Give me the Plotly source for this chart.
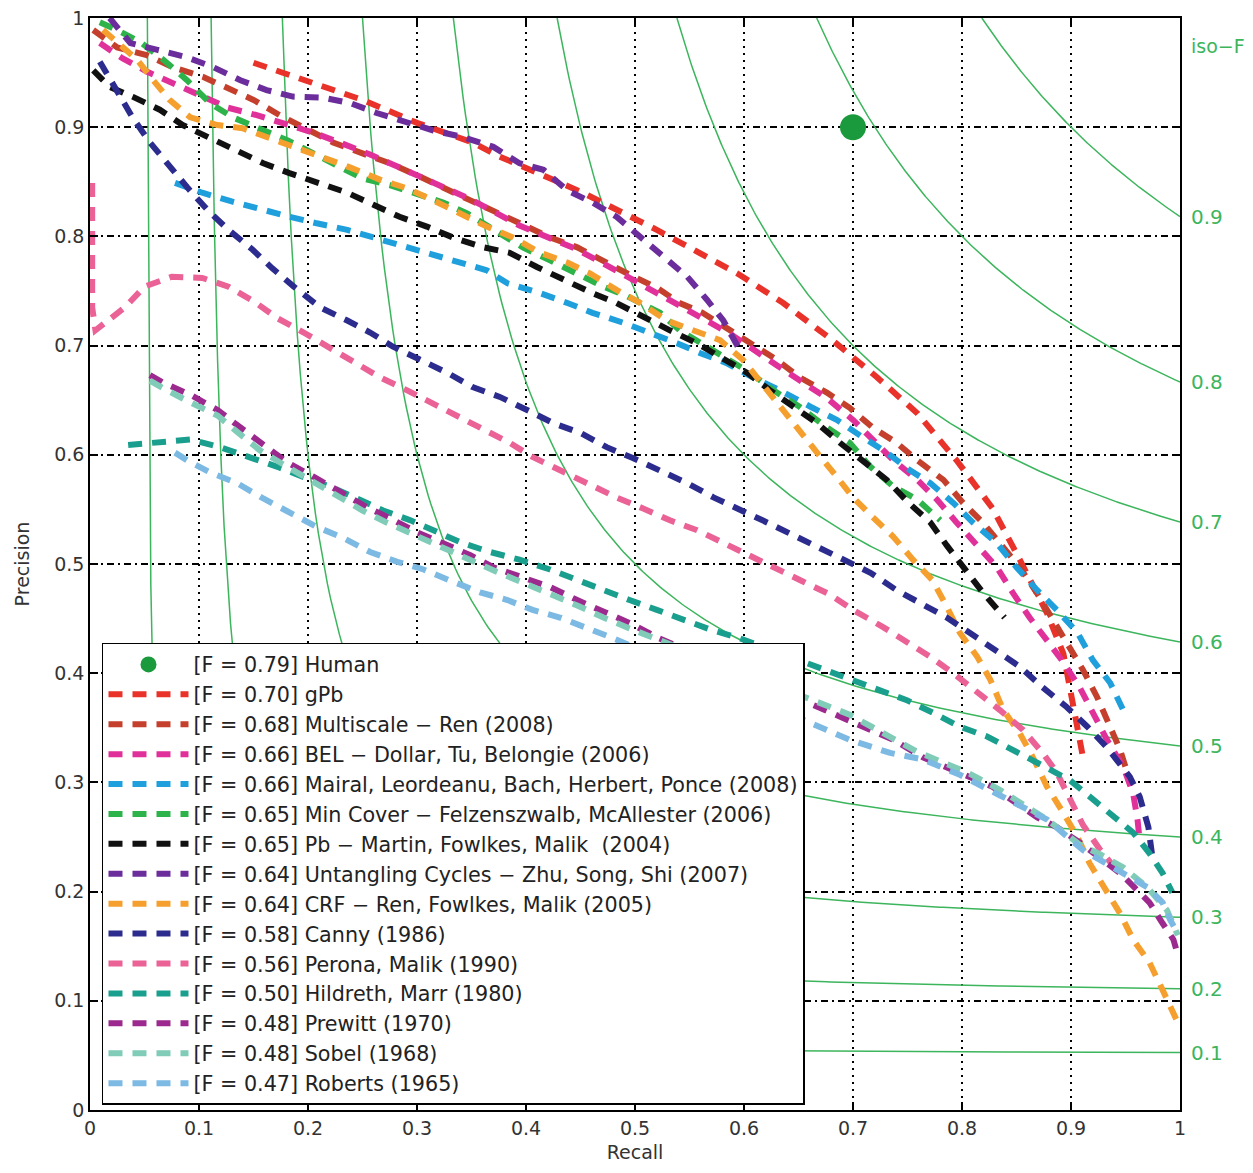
import numpy as np
import plotly.graph_objects as go

# ---------------- data (recall, precision) ----------------
human_r = [0.70]
human_p = [0.90]

gpb_r = [0.150, 0.199, 0.250, 0.300, 0.351, 0.376, 0.450, 0.520, 0.594, 0.636, 0.681, 0.722, 0.759, 0.795, 0.828, 0.853, 0.878, 0.893, 0.899, 0.906, 0.911]
gpb_p = [0.959, 0.943, 0.925, 0.904, 0.886, 0.873, 0.841, 0.806, 0.766, 0.739, 0.705, 0.671, 0.638, 0.595, 0.551, 0.504, 0.455, 0.418, 0.385, 0.351, 0.323]

multi_r = [0.003, 0.025, 0.052, 0.076, 0.104, 0.126, 0.150, 0.174, 0.199, 0.223, 0.250, 0.275, 0.300, 0.324, 0.349, 0.373, 0.394, 0.422, 0.447, 0.471, 0.495, 0.520, 0.541, 0.562, 0.587, 0.608, 0.630, 0.651, 0.676, 0.697, 0.718, 0.740, 0.759, 0.783, 0.801, 0.819, 0.838, 0.853, 0.869, 0.883, 0.899, 0.911, 0.924, 0.936, 0.945, 0.951]
multi_p = [0.989, 0.973, 0.966, 0.955, 0.946, 0.936, 0.925, 0.911, 0.899, 0.886, 0.876, 0.867, 0.856, 0.844, 0.833, 0.822, 0.812, 0.799, 0.790, 0.777, 0.765, 0.753, 0.739, 0.730, 0.714, 0.702, 0.687, 0.671, 0.657, 0.643, 0.625, 0.611, 0.595, 0.577, 0.556, 0.538, 0.516, 0.497, 0.473, 0.449, 0.424, 0.403, 0.378, 0.351, 0.330, 0.311]

bel_r = [0.009, 0.030, 0.052, 0.076, 0.101, 0.126, 0.153, 0.177, 0.205, 0.229, 0.257, 0.300, 0.328, 0.351, 0.394, 0.447, 0.495, 0.541, 0.587, 0.630, 0.676, 0.700, 0.718, 0.737, 0.759, 0.777, 0.795, 0.814, 0.832, 0.847, 0.862, 0.878, 0.893, 0.908, 0.920, 0.933, 0.948, 0.957, 0.961, 0.963]
bel_p = [0.977, 0.963, 0.951, 0.940, 0.929, 0.918, 0.911, 0.904, 0.895, 0.886, 0.875, 0.856, 0.844, 0.833, 0.810, 0.788, 0.762, 0.736, 0.711, 0.682, 0.652, 0.632, 0.614, 0.595, 0.577, 0.559, 0.538, 0.516, 0.497, 0.473, 0.451, 0.430, 0.410, 0.387, 0.364, 0.339, 0.314, 0.290, 0.266, 0.247]

mairal_r = [0.078, 0.103, 0.130, 0.158, 0.183, 0.208, 0.236, 0.260, 0.284, 0.312, 0.337, 0.364, 0.383, 0.413, 0.438, 0.461, 0.489, 0.514, 0.539, 0.560, 0.584, 0.608, 0.633, 0.661, 0.685, 0.709, 0.731, 0.752, 0.771, 0.792, 0.810, 0.832, 0.850, 0.869, 0.887, 0.906, 0.920, 0.936, 0.948]
mairal_p = [0.849, 0.840, 0.832, 0.824, 0.818, 0.812, 0.806, 0.799, 0.792, 0.785, 0.777, 0.769, 0.757, 0.748, 0.739, 0.730, 0.721, 0.712, 0.702, 0.693, 0.684, 0.671, 0.659, 0.644, 0.632, 0.616, 0.602, 0.586, 0.574, 0.556, 0.538, 0.519, 0.497, 0.476, 0.458, 0.437, 0.412, 0.391, 0.366]

mincover_r = [0.009, 0.025, 0.046, 0.067, 0.089, 0.110, 0.131, 0.156, 0.181, 0.205, 0.227, 0.250, 0.275, 0.296, 0.324, 0.346, 0.370, 0.397, 0.422, 0.447, 0.471, 0.493, 0.523, 0.541, 0.566, 0.584, 0.606, 0.627, 0.651, 0.676, 0.697, 0.716, 0.737, 0.759, 0.780]
mincover_p = [0.996, 0.989, 0.978, 0.962, 0.943, 0.922, 0.909, 0.899, 0.888, 0.876, 0.864, 0.853, 0.847, 0.840, 0.831, 0.821, 0.806, 0.790, 0.778, 0.766, 0.754, 0.745, 0.730, 0.714, 0.699, 0.687, 0.675, 0.659, 0.644, 0.625, 0.611, 0.589, 0.571, 0.559, 0.540]

pb_r = [0.003, 0.018, 0.039, 0.064, 0.085, 0.110, 0.135, 0.159, 0.183, 0.208, 0.236, 0.260, 0.284, 0.309, 0.333, 0.361, 0.385, 0.410, 0.434, 0.461, 0.483, 0.507, 0.532, 0.557, 0.578, 0.603, 0.624, 0.645, 0.667, 0.688, 0.709, 0.731, 0.750, 0.771, 0.786, 0.801, 0.819, 0.839]
pb_p = [0.952, 0.937, 0.928, 0.916, 0.902, 0.890, 0.877, 0.867, 0.858, 0.849, 0.840, 0.829, 0.818, 0.809, 0.799, 0.790, 0.785, 0.772, 0.760, 0.748, 0.739, 0.726, 0.714, 0.702, 0.690, 0.675, 0.659, 0.644, 0.629, 0.611, 0.595, 0.577, 0.557, 0.538, 0.517, 0.497, 0.474, 0.451]

untangle_r = [0.018, 0.037, 0.061, 0.089, 0.113, 0.138, 0.162, 0.186, 0.214, 0.239, 0.263, 0.287, 0.315, 0.342, 0.370, 0.394, 0.416, 0.438, 0.461, 0.483, 0.505, 0.526, 0.548, 0.566, 0.581, 0.596]
untangle_p = [1.000, 0.977, 0.971, 0.964, 0.955, 0.943, 0.934, 0.928, 0.927, 0.922, 0.913, 0.905, 0.897, 0.891, 0.882, 0.867, 0.861, 0.842, 0.831, 0.818, 0.799, 0.781, 0.763, 0.742, 0.723, 0.696]

crf_r = [0.012, 0.043, 0.058, 0.073, 0.092, 0.117, 0.140, 0.165, 0.190, 0.214, 0.239, 0.266, 0.291, 0.315, 0.339, 0.364, 0.388, 0.413, 0.438, 0.459, 0.483, 0.505, 0.529, 0.553, 0.578, 0.599, 0.633, 0.649, 0.667, 0.685, 0.700, 0.718, 0.737, 0.755, 0.773, 0.786, 0.798, 0.814, 0.826, 0.838, 0.853, 0.865, 0.878, 0.893, 0.906, 0.917, 0.933, 0.945, 0.957, 0.972, 0.984, 0.998]
crf_p = [0.989, 0.962, 0.943, 0.925, 0.909, 0.902, 0.899, 0.890, 0.882, 0.873, 0.863, 0.852, 0.844, 0.833, 0.821, 0.809, 0.799, 0.785, 0.776, 0.766, 0.751, 0.739, 0.723, 0.714, 0.705, 0.687, 0.644, 0.623, 0.602, 0.580, 0.561, 0.543, 0.525, 0.504, 0.485, 0.461, 0.437, 0.415, 0.394, 0.366, 0.345, 0.323, 0.296, 0.272, 0.250, 0.226, 0.201, 0.180, 0.156, 0.135, 0.110, 0.080]

canny_r = [0.009, 0.025, 0.039, 0.055, 0.073, 0.090, 0.108, 0.127, 0.149, 0.167, 0.187, 0.211, 0.236, 0.257, 0.278, 0.303, 0.328, 0.351, 0.376, 0.401, 0.425, 0.450, 0.474, 0.498, 0.523, 0.548, 0.572, 0.596, 0.617, 0.642, 0.667, 0.691, 0.716, 0.740, 0.761, 0.786, 0.807, 0.832, 0.853, 0.874, 0.896, 0.915, 0.933, 0.954, 0.963, 0.971, 0.975]
canny_p = [0.960, 0.934, 0.909, 0.886, 0.864, 0.844, 0.824, 0.806, 0.788, 0.771, 0.754, 0.735, 0.723, 0.712, 0.699, 0.687, 0.675, 0.662, 0.653, 0.641, 0.629, 0.620, 0.607, 0.597, 0.586, 0.574, 0.561, 0.549, 0.540, 0.528, 0.516, 0.504, 0.492, 0.476, 0.464, 0.451, 0.437, 0.421, 0.406, 0.387, 0.369, 0.351, 0.332, 0.305, 0.287, 0.259, 0.229]

perona_r = [0.002, 0.002, 0.005, 0.014, 0.032, 0.050, 0.075, 0.103, 0.127, 0.151, 0.172, 0.196, 0.220, 0.241, 0.266, 0.291, 0.315, 0.337, 0.361, 0.385, 0.406, 0.431, 0.459, 0.483, 0.507, 0.532, 0.557, 0.581, 0.606, 0.630, 0.654, 0.679, 0.700, 0.728, 0.750, 0.771, 0.792, 0.814, 0.835, 0.856, 0.874, 0.887, 0.899, 0.911, 0.927, 0.940]
perona_p = [0.849, 0.735, 0.714, 0.721, 0.735, 0.754, 0.763, 0.762, 0.754, 0.740, 0.725, 0.712, 0.698, 0.685, 0.671, 0.659, 0.647, 0.635, 0.623, 0.611, 0.598, 0.586, 0.574, 0.561, 0.551, 0.540, 0.531, 0.519, 0.508, 0.496, 0.484, 0.472, 0.458, 0.442, 0.428, 0.415, 0.400, 0.383, 0.366, 0.348, 0.327, 0.309, 0.284, 0.261, 0.238, 0.222]

hildreth_r = [0.035, 0.064, 0.092, 0.119, 0.147, 0.172, 0.195, 0.220, 0.245, 0.269, 0.294, 0.318, 0.342, 0.367, 0.394, 0.422, 0.447, 0.471, 0.495, 0.520, 0.544, 0.569, 0.596, 0.700, 0.725, 0.750, 0.773, 0.798, 0.823, 0.847, 0.869, 0.899, 0.920, 0.939, 0.957, 0.972, 0.984, 0.993]
hildreth_p = [0.609, 0.612, 0.614, 0.607, 0.598, 0.589, 0.580, 0.571, 0.560, 0.549, 0.540, 0.529, 0.519, 0.511, 0.504, 0.495, 0.485, 0.476, 0.467, 0.458, 0.449, 0.440, 0.432, 0.394, 0.385, 0.375, 0.364, 0.351, 0.342, 0.330, 0.318, 0.302, 0.284, 0.268, 0.254, 0.235, 0.217, 0.199]

prewitt_r = [0.055, 0.067, 0.092, 0.117, 0.138, 0.159, 0.181, 0.205, 0.229, 0.254, 0.275, 0.300, 0.324, 0.349, 0.370, 0.397, 0.422, 0.447, 0.471, 0.495, 0.520, 0.697, 0.716, 0.737, 0.764, 0.786, 0.807, 0.828, 0.850, 0.869, 0.887, 0.908, 0.929, 0.945, 0.961, 0.972, 0.984, 0.994, 0.998]
prewitt_p = [0.673, 0.666, 0.655, 0.641, 0.625, 0.609, 0.593, 0.580, 0.566, 0.552, 0.542, 0.529, 0.519, 0.508, 0.497, 0.488, 0.479, 0.467, 0.456, 0.446, 0.433, 0.357, 0.348, 0.339, 0.323, 0.314, 0.305, 0.296, 0.281, 0.268, 0.259, 0.245, 0.229, 0.217, 0.201, 0.190, 0.171, 0.156, 0.142]

sobel_r = [0.055, 0.067, 0.092, 0.117, 0.135, 0.156, 0.181, 0.205, 0.227, 0.250, 0.272, 0.296, 0.321, 0.346, 0.373, 0.397, 0.422, 0.447, 0.471, 0.495, 0.697, 0.759, 0.783, 0.805, 0.835, 0.878, 0.908, 0.927, 0.948, 0.970, 0.988, 0.998]
sobel_p = [0.668, 0.661, 0.648, 0.636, 0.621, 0.604, 0.589, 0.575, 0.561, 0.549, 0.538, 0.527, 0.516, 0.505, 0.493, 0.483, 0.473, 0.462, 0.451, 0.441, 0.362, 0.328, 0.318, 0.309, 0.293, 0.266, 0.243, 0.234, 0.222, 0.204, 0.183, 0.160]

roberts_r = [0.078, 0.089, 0.110, 0.135, 0.159, 0.183, 0.208, 0.232, 0.257, 0.282, 0.306, 0.330, 0.358, 0.383, 0.406, 0.431, 0.456, 0.480, 0.697, 0.734, 0.764, 0.798, 0.835, 0.878, 0.911, 0.936, 0.970, 0.984, 0.991, 0.998]
roberts_p = [0.602, 0.595, 0.584, 0.574, 0.560, 0.547, 0.534, 0.524, 0.511, 0.502, 0.495, 0.485, 0.474, 0.467, 0.458, 0.451, 0.442, 0.432, 0.339, 0.327, 0.321, 0.307, 0.288, 0.266, 0.238, 0.224, 0.204, 0.190, 0.174, 0.162]

legend_labels = [
    "[F = 0.79] Human",
    "[F = 0.70] gPb",
    "[F = 0.68] Multiscale \u2212 Ren (2008)",
    "[F = 0.66] BEL \u2212 Dollar, Tu, Belongie (2006)",
    "[F = 0.66] Mairal, Leordeanu, Bach, Herbert, Ponce (2008)",
    "[F = 0.65] Min Cover \u2212 Felzenszwalb, McAllester (2006)",
    "[F = 0.65] Pb \u2212 Martin, Fowlkes, Malik  (2004)",
    "[F = 0.64] Untangling Cycles \u2212 Zhu, Song, Shi (2007)",
    "[F = 0.64] CRF \u2212 Ren, Fowlkes, Malik (2005)",
    "[F = 0.58] Canny (1986)",
    "[F = 0.56] Perona, Malik (1990)",
    "[F = 0.50] Hildreth, Marr (1980)",
    "[F = 0.48] Prewitt (1970)",
    "[F = 0.48] Sobel (1968)",
    "[F = 0.47] Roberts (1965)",
]

iso_f_levels = [0.1, 0.2, 0.3, 0.4, 0.5, 0.6, 0.7, 0.8, 0.9]
tick_vals = [0, 0.1, 0.2, 0.3, 0.4, 0.5, 0.6, 0.7, 0.8, 0.9, 1]

series = [
    (gpb_r, gpb_p, "#e8322a"),
    (multi_r, multi_p, "#c4402c"),
    (bel_r, bel_p, "#e0309a"),
    (mairal_r, mairal_p, "#1fa0dc"),
    (mincover_r, mincover_p, "#2db34a"),
    (pb_r, pb_p, "#111111"),
    (untangle_r, untangle_p, "#6b2c9c"),
    (crf_r, crf_p, "#f5a02e"),
    (canny_r, canny_p, "#2c2c8e"),
    (perona_r, perona_p, "#ea6296"),
    (hildreth_r, hildreth_p, "#1a9f8e"),
    (prewitt_r, prewitt_p, "#9c2a8e"),
    (sobel_r, sobel_p, "#80ccb8"),
    (roberts_r, roberts_p, "#7cb9e3"),
]

ISO_GREEN = "#3cb55c"
FONT = "DejaVu Sans, Verdana, sans-serif"

fig = go.Figure()

# iso-F curves
for f in iso_f_levels:
    r = np.linspace(f / (2 - f), 1.0, 300)
    p = f * r / (2 * r - f)
    fig.add_trace(go.Scatter(x=r, y=p, mode="lines", showlegend=False, hoverinfo="skip",
                             line=dict(color=ISO_GREEN, width=1.5)))

# human
fig.add_trace(go.Scatter(x=human_r, y=human_p, mode="markers", name=legend_labels[0],
                         marker=dict(color="#1a9a3c", size=26)))

for (r, p, c), lab in zip(series, legend_labels[1:]):
    fig.add_trace(go.Scatter(x=r, y=p, mode="lines", name=lab,
                             line=dict(color=c, width=6, dash="14px,10px")))

# right side iso-F labels
annotations = [dict(x=1.008, y=0.974, xref="paper", yref="y", text="iso\u2212F", showarrow=False,
                    xanchor="left", yanchor="middle", font=dict(color=ISO_GREEN, size=19, family=FONT))]
for f in iso_f_levels:
    annotations.append(dict(x=1.008, y=f / (2 - f), xref="paper", yref="y", text=f"{f:.1f}",
                            showarrow=False, xanchor="left", yanchor="middle",
                            font=dict(color=ISO_GREEN, size=20, family=FONT)))

axis_common = dict(range=[0, 1], tickvals=tick_vals, ticks="inside", ticklen=8, tickwidth=1.5,
                   tickcolor="black", showline=True, linecolor="black", linewidth=1.5, mirror="ticks",
                   showgrid=True, gridcolor="black", gridwidth=1.5, zeroline=False,
                   ticklabeloverflow="allow",
                   tickfont=dict(size=19, color="#333", family=FONT))

# the page body adds an 8px offset, so the figure is sized to end at the window edge
fig.update_layout(
    width=1245, height=1165,
    margin=dict(l=82, r=73, t=10, b=63, autoexpand=False),
    paper_bgcolor="white", plot_bgcolor="white",
    font=dict(family=FONT, color="#222"),
    xaxis=dict(**axis_common, griddash="2px,5px",
               title=dict(text="Recall", font=dict(size=19, color="#333"), standoff=8)),
    yaxis=dict(**axis_common, griddash="7px,4px,2px,4px",
               title=dict(text="Precision", font=dict(size=19, color="#333"), standoff=20)),
    legend=dict(x=0.011, y=0.4277, xanchor="left", yanchor="top", bgcolor="white",
                bordercolor="black", borderwidth=1.5, itemwidth=80,
                font=dict(size=20.7, color="#222", family=FONT), tracegroupgap=0),
    annotations=annotations,
    showlegend=True,
)

fig.write_html("out.html")
